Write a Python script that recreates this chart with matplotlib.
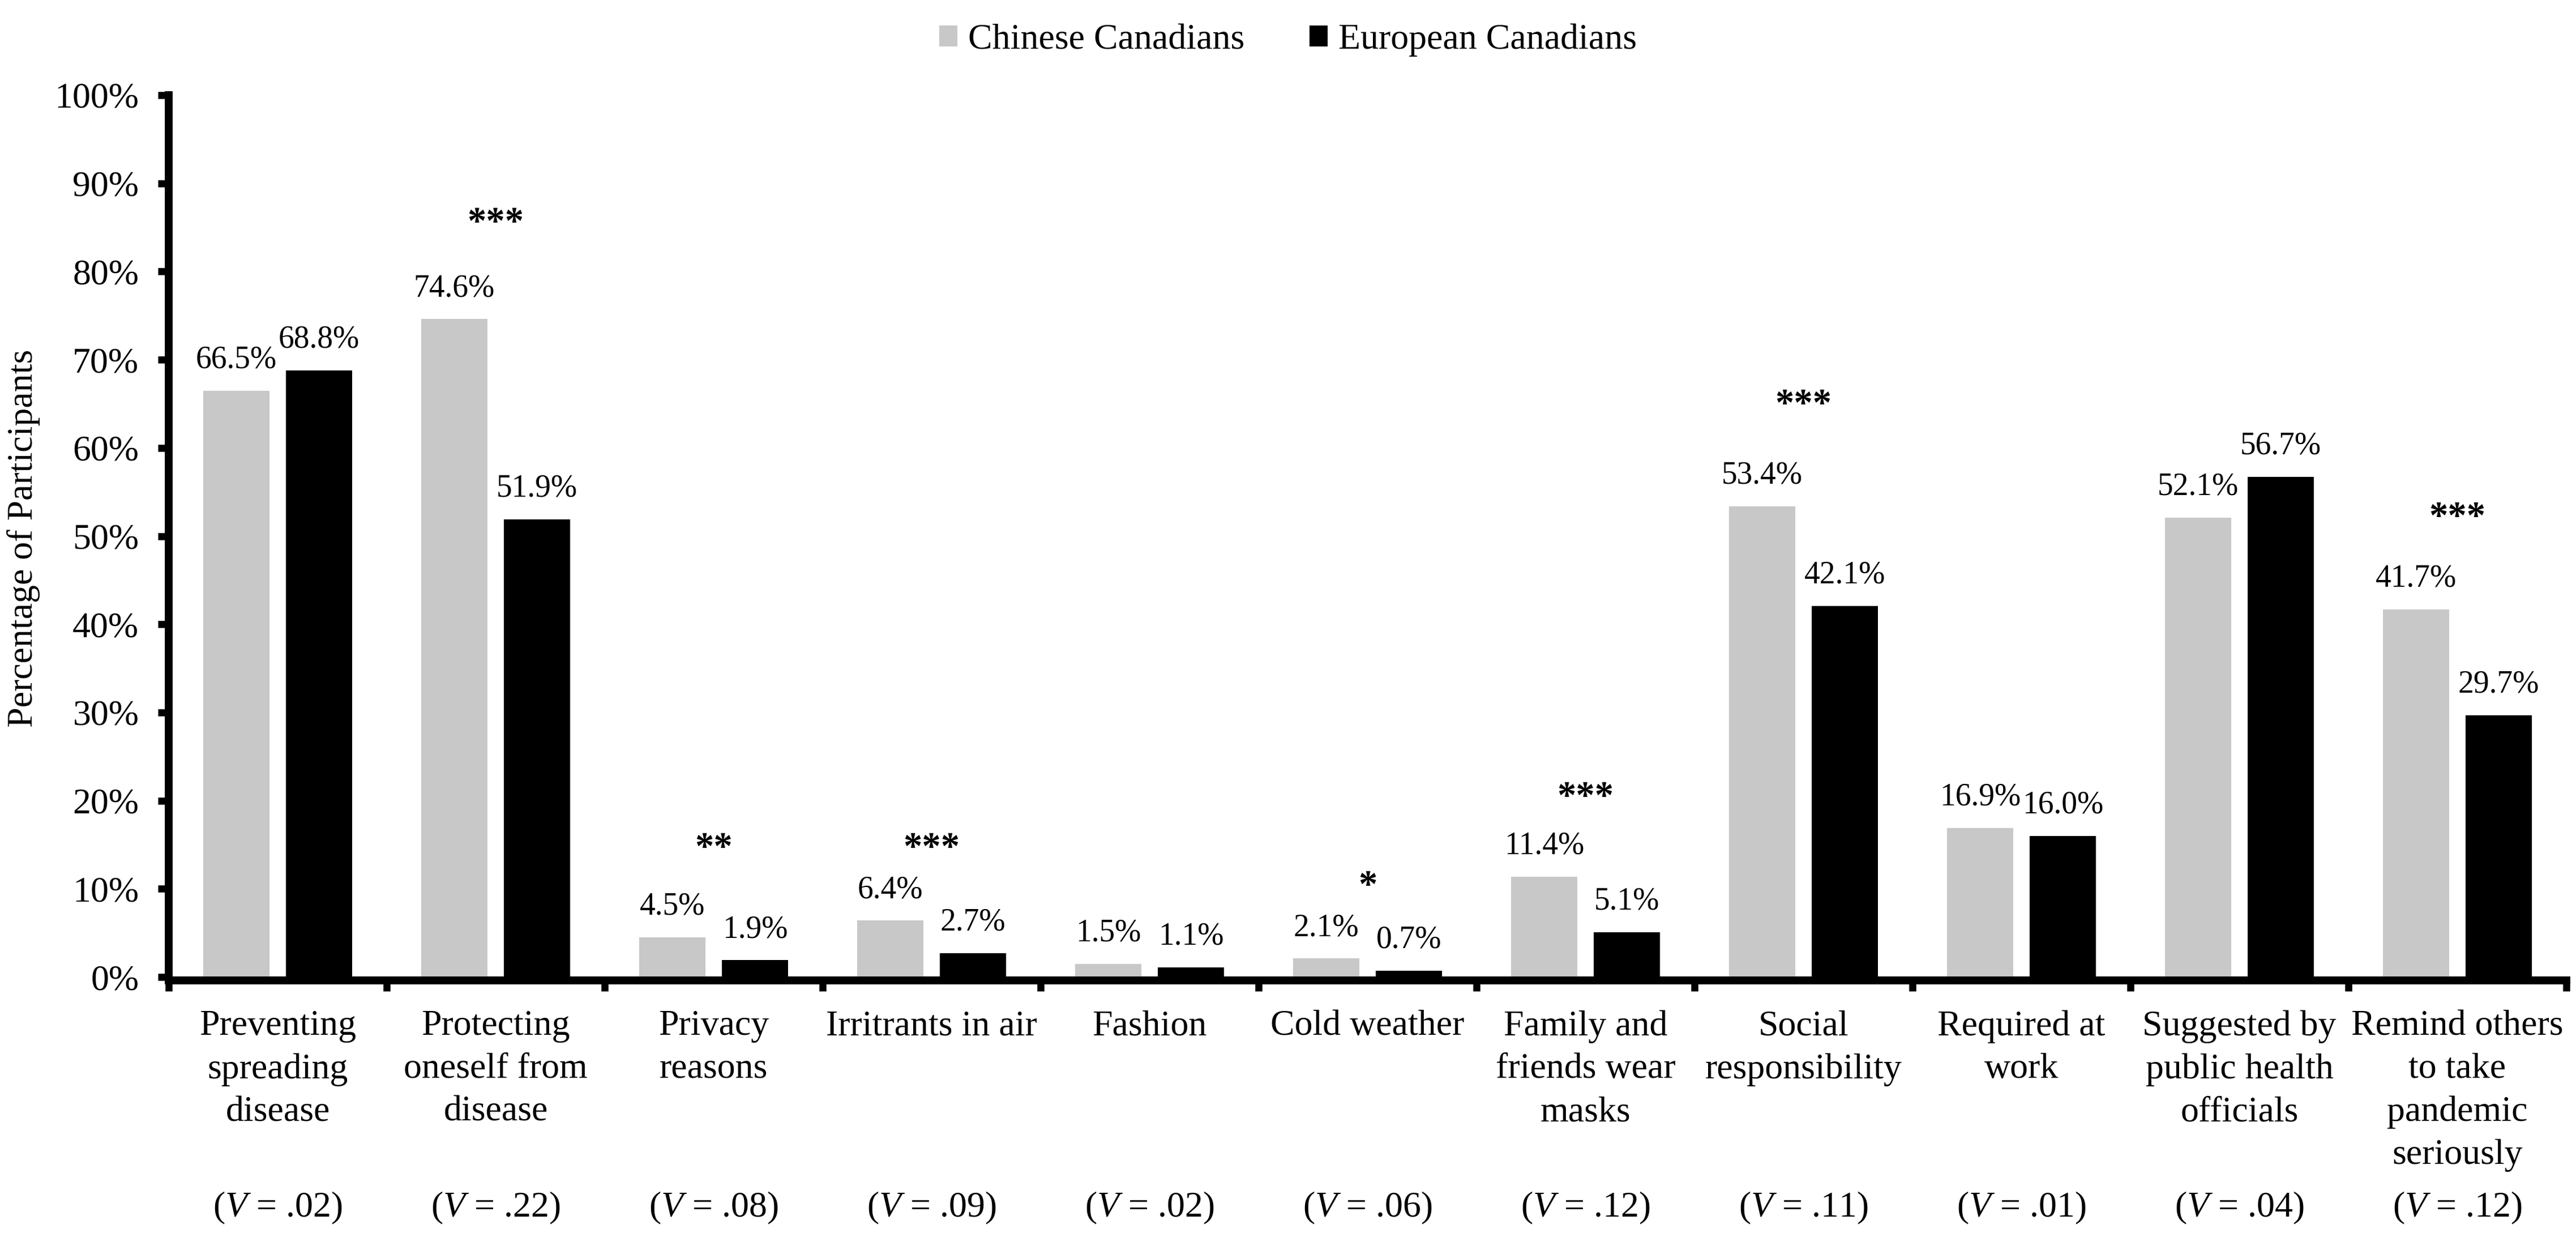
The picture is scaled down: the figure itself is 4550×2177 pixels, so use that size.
import matplotlib
matplotlib.use("Agg")
import matplotlib.pyplot as plt
import numpy as np

plt.rcParams['font.family'] = ['Liberation Serif', 'DejaVu Serif']
plt.rcParams['mathtext.fontset'] = 'custom'
plt.rcParams['mathtext.rm'] = 'Liberation Serif'
plt.rcParams['mathtext.it'] = 'Liberation Serif:italic'

categories = [
    "Preventing\nspreading\ndisease",
    "Protecting\noneself from\ndisease",
    "Privacy\nreasons",
    "Irritrants in air",
    "Fashion",
    "Cold weather",
    "Family and\nfriends wear\nmasks",
    "Social\nresponsibility",
    "Required at\nwork",
    "Suggested by\npublic health\nofficials",
    "Remind others\nto take\npandemic\nseriously",
]
chinese = [66.5, 74.6, 4.5, 6.4, 1.5, 2.1, 11.4, 53.4, 16.9, 52.1, 41.7]
european = [68.8, 51.9, 1.9, 2.7, 1.1, 0.7, 5.1, 42.1, 16.0, 56.7, 29.7]
cramers_v = [".02", ".22", ".08", ".09", ".02", ".06", ".12", ".11", ".01", ".04", ".12"]
stars = ["", "***", "**", "***", "", "*", "***", "***", "", "", "***"]
star_y = [None, 86.6, 15.7, 15.7, None, 11.4, 21.5, 66.0, None, None, 53.2]
yticks = list(range(0, 101, 10))

W, H = 4550, 2177
fig = plt.figure(figsize=(W / 100, H / 100), dpi=100)
ax = fig.add_axes([298 / W, (H - 1725) / H, (4533 - 298) / W, 1557 / H])

x = np.arange(len(categories))
bw = 0.305
off = 0.19
b1 = ax.bar(x - off, chinese, bw, color="#c8c8c8", label="Chinese Canadians", zorder=1)
b2 = ax.bar(x + off, european, bw, color="#000000", label="European Canadians", zorder=1)

for xi, v in zip(x - off, chinese):
    ax.annotate(f"{v:.1f}%", (xi, v), xytext=(0, 29), textcoords="offset points",
                ha="center", va="baseline", fontsize=40)
for xi, v in zip(x + off, european):
    ax.annotate(f"{v:.1f}%", (xi, v), xytext=(0, 29), textcoords="offset points",
                ha="center", va="baseline", fontsize=40)

for xi, s, sy in zip(x, stars, star_y):
    if s:
        ax.annotate(s, (xi, sy), xytext=(0, -25), textcoords="offset points",
                    ha="center", va="baseline", fontsize=48, fontweight="bold")

for xi, v in zip(x, cramers_v):
    ax.text(xi, (1725 - 2133) / 1557, f"($\\it{{V}}$ = {v})", transform=ax.get_xaxis_transform(),
            ha="center", va="center", fontsize=46)

ax.set_xlim(-0.5, len(categories) - 0.5)
ax.set_ylim(0, 100)

for s in ["top", "right"]:
    ax.spines[s].set_visible(False)
for s in ["left", "bottom"]:
    ax.spines[s].set_linewidth(10)
    ax.spines[s].set_zorder(3)
ax.spines["bottom"].set_position(("outward", 4))

ax.set_yticks(yticks)
ax.set_yticklabels([f"{t}%" for t in yticks], fontsize=46)
ax.tick_params(axis="y", length=14, width=9, pad=24)

ax.set_xticks(np.arange(-0.5, len(categories), 1.0))
ax.set_xticklabels([])
ax.tick_params(axis="x", which="major", length=14, width=9)
ax.set_xticks(x, minor=True)
ax.set_xticklabels(categories, minor=True, fontsize=46, linespacing=1.4)
ax.tick_params(axis="x", which="minor", length=0, pad=38)

fig.text(42 / W, (H - 950) / H, "Percentage of Participants", rotation=90,
         ha="center", va="center", fontsize=46)

fig.legend(handles=[b1, b2], loc="upper center", bbox_to_anchor=(0.5, 1.0), ncol=2,
           frameon=False, fontsize=46, handlelength=0.5, handleheight=0.5,
           handletextpad=0.3, columnspacing=1.8, borderpad=0.15)

fig.savefig("out.png", dpi=100)
